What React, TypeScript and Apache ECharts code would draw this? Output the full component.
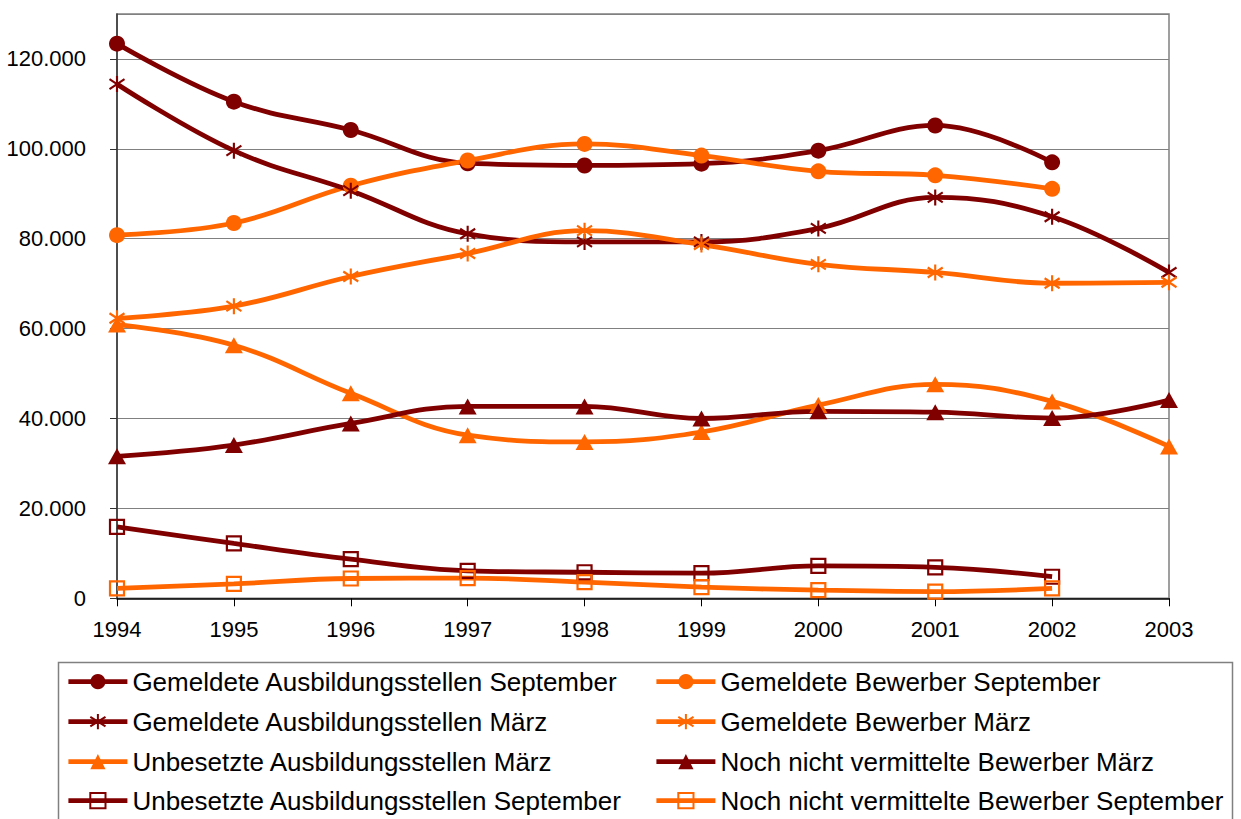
import React, { useEffect, useRef } from "react";
import * as echarts from "echarts";

const years = ["1994", "1995", "1996", "1997", "1998", "1999", "2000", "2001", "2002", "2003"];

const gemAusbSep = [123400, 110500, 104200, 96800, 96300, 96700, 99600, 105200, 97000, null];
const gemBewSep = [80800, 83500, 91800, 97400, 101100, 98500, 95000, 94100, 91100, null];
const gemAusbMar = [114400, 99600, 90700, 81100, 79300, 79300, 82300, 89200, 84900, 72500];
const gemBewMar = [62300, 65000, 71600, 76700, 81800, 78700, 74300, 72500, 70100, 70300];
const unbAusbMar = [60900, 56300, 45600, 36300, 34800, 37000, 43000, 47600, 43800, 33800];
const nochBewMar = [31600, 34100, 38900, 42700, 42700, 40000, 41600, 41400, 40100, 44100];
const unbAusbSep = [15900, 12200, 8700, 6100, 5800, 5600, 7200, 6900, 4800, null];
const nochBewSep = [2200, 3200, 4400, 4500, 3600, 2500, 1800, 1500, 2200, null];

const names = [
  "Gemeldete Ausbildungsstellen September",
  "Gemeldete Bewerber September",
  "Gemeldete Ausbildungsstellen März",
  "Gemeldete Bewerber März",
  "Unbesetzte Ausbildungsstellen März",
  "Noch nicht vermittelte Bewerber März",
  "Unbesetzte Ausbildungsstellen September",
  "Noch nicht vermittelte Bewerber September",
];

const DARK = "#800000";
const ORANGE = "#FF6600";
const FONT = 'Arial, "Liberation Sans", sans-serif';
const ASTERISK = "path://M1 3 L15 13 M1 13 L15 3 M8 0 L8 16";

export default function App() {
  const ref = useRef<HTMLDivElement>(null);

  useEffect(() => {
    if (!ref.current) return;
    const chart = echarts.init(ref.current, undefined, { renderer: "svg" });

    const mk = (name: string, data: (number | null)[], color: string, kind: string) => {
      const base: any = {
        name,
        type: "line",
        data,
        smooth: 0.4,
        showSymbol: true,
        connectNulls: false,
        lineStyle: { color, width: 4.8 },
        emphasis: { disabled: true },
      };
      if (kind === "circle") {
        base.symbol = "circle";
        base.symbolSize = 16;
        base.itemStyle = { color };
      } else if (kind === "star") {
        base.symbol = ASTERISK;
        base.symbolSize = [15, 16];
        base.itemStyle = { color, borderColor: color, borderWidth: 2.2 };
      } else if (kind === "tri") {
        base.symbol = "triangle";
        base.symbolSize = [18, 16];
        base.itemStyle = { color };
      } else {
        base.symbol = "rect";
        base.symbolSize = 14;
        base.itemStyle = { color: "rgba(255,255,255,0)", borderColor: color, borderWidth: 2.2 };
      }
      return base;
    };

    const series = [
      mk(names[0], gemAusbSep, DARK, "circle"),
      mk(names[1], gemBewSep, ORANGE, "circle"),
      mk(names[2], gemAusbMar, DARK, "star"),
      mk(names[3], gemBewMar, ORANGE, "star"),
      mk(names[4], unbAusbMar, ORANGE, "tri"),
      mk(names[5], nochBewMar, DARK, "tri"),
      mk(names[6], unbAusbSep, DARK, "rect"),
      mk(names[7], nochBewSep, ORANGE, "rect"),
    ];

    const rowCenters = [681.7, 721.7, 761.7, 800.7];
    const legends = names.map((n, i) => {
      const col = i % 2;
      const row = Math.floor(i / 2);
      return {
        show: true,
        orient: "vertical",
        left: col === 0 ? 66 : 654,
        top: rowCenters[row] - 13,
        padding: 0,
        itemWidth: 59,
        itemHeight: 19,
        selectedMode: false,
        lineStyle: { width: 4.8 },
        data: [n],
        textStyle: { fontFamily: FONT, fontSize: 26, color: "#000" },
      };
    });

    chart.setOption({
      animation: false,
      backgroundColor: "#fff",
      textStyle: { fontFamily: FONT },
      grid: {
        left: 117,
        right: 72,
        top: 14,
        bottom: 220.7,
        show: true,
        borderColor: "#808080",
        borderWidth: 1.5,
        backgroundColor: "transparent",
      },
      legend: legends,
      xAxis: {
        type: "category",
        data: years,
        boundaryGap: false,
        axisLine: { show: true, lineStyle: { color: "#000", width: 1.5 } },
        axisTick: { show: true, inside: false, length: 8, alignWithLabel: true, lineStyle: { color: "#000", width: 1 } },
        axisLabel: { color: "#000", fontSize: 22, fontFamily: FONT, margin: 20 },
        splitLine: { show: false },
      },
      yAxis: {
        type: "value",
        min: 0,
        max: 130000,
        interval: 20000,
        axisLine: { show: true, lineStyle: { color: "#333", width: 1.5 } },
        axisTick: { show: true, length: 7, lineStyle: { color: "#333", width: 1 } },
        axisLabel: {
          color: "#000",
          fontSize: 22,
          fontFamily: FONT,
          margin: 31,
          showMaxLabel: false,
          formatter: (v: number) => (v > 120000 ? "" : v.toLocaleString("de-DE")),
        },
        splitLine: { show: true, lineStyle: { color: "#808080", width: 1.2 } },
      },
      graphic: [
        {
          type: "rect",
          shape: { x: 58.5, y: 662.5, width: 1174, height: 200 },
          style: { fill: "none", stroke: "#808080", lineWidth: 1.5 },
          silent: true,
          z: 0,
        },
      ],
      series,
    });

    return () => chart.dispose();
  }, []);

  return (
    <div
      ref={ref}
      style={{ position: "fixed", left: 0, top: 0, width: 1241, height: 819, background: "#fff" }}
    />
  );
}
